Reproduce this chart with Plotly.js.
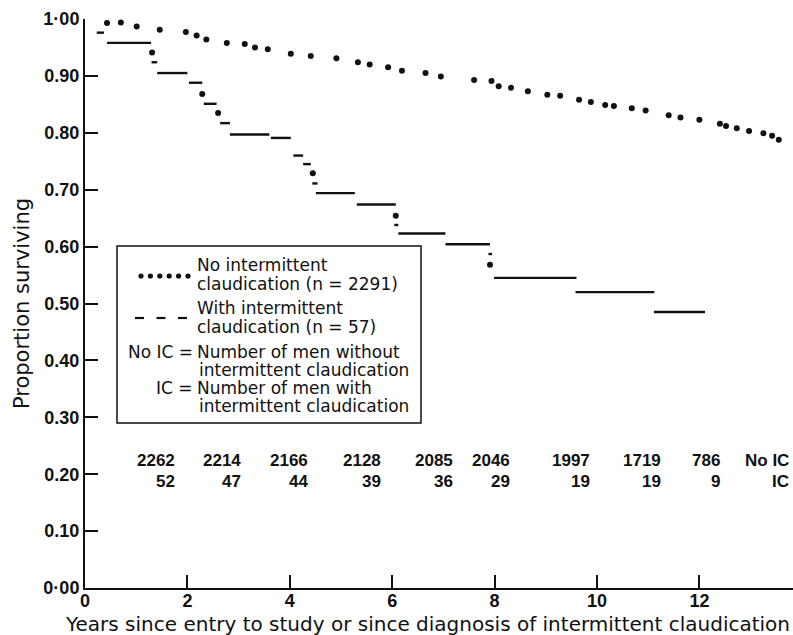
<!DOCTYPE html>
<html>
<head>
<meta charset="utf-8">
<script src="https://cdn.plot.ly/plotly-3.0.1.min.js"></script>
<style>
html,body{margin:0;padding:0;background:#fff;overflow:hidden;}
#chart{width:793px;height:635px;}
</style>
</head>
<body>
<div id="chart"></div>
<script>
// ---- Data ----
// No intermittent claudication (dotted survival curve)
const noIcYears = [0.43,0.70,1.01,1.46,1.97,2.18,2.37,2.77,3.12,3.32,3.57,4.02,4.41,4.91,5.33,5.56,5.92,6.19,6.65,6.95,7.60,7.94,8.08,8.32,8.65,9.03,9.28,9.65,9.88,10.16,10.33,10.68,10.95,11.40,11.63,12.00,12.40,12.52,12.73,12.97,13.25,13.42,13.55];
const noIcSurv  = [0.993,0.994,0.987,0.981,0.977,0.971,0.964,0.958,0.956,0.950,0.947,0.939,0.935,0.931,0.924,0.920,0.915,0.909,0.905,0.899,0.893,0.891,0.882,0.879,0.873,0.867,0.865,0.858,0.854,0.849,0.847,0.843,0.839,0.831,0.827,0.823,0.816,0.812,0.808,0.803,0.799,0.795,0.788];

// With intermittent claudication (step segments)
const icStart = [0.23,0.43,1.30,1.41,2.03,2.32,2.64,2.83,3.63,4.07,4.26,4.44,4.51,5.31,6.04,6.12,7.04,7.88,7.99,9.58,11.11];
const icEnd   = [0.37,1.29,1.41,2.00,2.29,2.57,2.83,3.60,4.02,4.26,4.41,4.54,5.27,6.07,6.12,7.04,7.91,7.95,9.60,11.12,12.11];
const icSurv  = [0.976,0.958,0.924,0.905,0.888,0.851,0.817,0.797,0.791,0.760,0.745,0.711,0.694,0.674,0.638,0.623,0.604,0.587,0.545,0.520,0.485];
// dots drawn at drops of the IC curve
const icDotYears = [1.31,2.29,2.60,4.45,6.07,7.91];
const icDotSurv  = [0.941,0.868,0.835,0.729,0.654,0.568];

// Numbers at risk
const atRiskNoIC = ["2262","2214","2166","2128","2085","2046","1997","1719","786","No IC"];
const atRiskIC   = ["52","47","44","39","36","29","19","19","9","IC"];
const atRiskYears = [1.78,3.06,4.38,5.80,7.20,8.32,9.88,11.27,12.42,13.77];

// Y tick labels
const yTickVals = [0,0.1,0.2,0.3,0.4,0.5,0.6,0.7,0.8,0.9,1.0];
const yTickText = ["0·00","0.10","0.20","0.30","0.40","0.50","0.60","0.70","0.80","0.90","1·00"];
const xTickVals = [0,2,4,6,8,10,12];

const xTitle = 'Years since entry to study or since diagnosis of intermittent claudication';
const yTitle = 'Proportion surviving';

// ---- Geometry helpers (layout only) ----
const W = 793, H = 635;
const M = {l:85, r:0, t:19, b:47};
const PW = W - M.l - M.r, PH = H - M.t - M.b;
const pxX = p => (p - M.l) / PW;
const pxY = p => (H - M.b - p) / PH;
const INK = '#111';

// Build segment arrays from the IC data
const segX = [], segY = [];
for (let i = 0; i < icStart.length; i++) {
  segX.push(icStart[i], icEnd[i], null);
  segY.push(icSurv[i], icSurv[i], null);
}

const traces = [
  {x: noIcYears, y: noIcSurv, mode:'markers', type:'scatter',
   marker:{size:6, color:INK}, cliponaxis:false, showlegend:false, hoverinfo:'x+y'},
  {x: segX, y: segY, mode:'lines', type:'scatter', connectgaps:false,
   line:{color:INK, width:2.4}, cliponaxis:false, showlegend:false},
  {x: icDotYears, y: icDotSurv, mode:'markers', type:'scatter',
   marker:{size:6, color:INK}, cliponaxis:false, showlegend:false}
];

const annFont = {family:'DejaVu Sans', size:17, color:INK};
const numFont = {family:'Liberation Sans', size:17, color:INK, weight:700};
const annotations = [];
function txt(text, px, py, anchor, font) {
  annotations.push({text:text, xref:'paper', yref:'paper', x:pxX(px), y:pxY(py),
    xanchor:anchor, yanchor:'middle', showarrow:false, font:font || annFont, borderpad:0});
}
// legend text
txt('No intermittent', 196, 265, 'left');
txt('claudication (n = 2291)', 196, 284, 'left');
txt('With intermittent', 196, 308, 'left');
txt('claudication (n = 57)', 196, 327, 'left');
txt('No IC =', 194, 352, 'right');
txt('Number of men without', 196, 352, 'left');
txt('intermittent claudication', 198, 370, 'left');
txt('IC =', 194, 388, 'right');
txt('Number of men with', 196, 388, 'left');
txt('intermittent claudication', 198, 406, 'left');

// x axis title (placed as in the reference, starting near the left edge)
txt(xTitle, 64, 624, 'left', {family:'DejaVu Sans', size:20, color:INK});

// numbers at risk rows
for (let i = 0; i < atRiskYears.length; i++) {
  annotations.push({text:atRiskNoIC[i], xref:'x', yref:'paper', x:atRiskYears[i], y:pxY(460),
    xanchor:'right', yanchor:'middle', showarrow:false, font:numFont, borderpad:0});
  annotations.push({text:atRiskIC[i], xref:'x', yref:'paper', x:atRiskYears[i], y:pxY(481),
    xanchor:'right', yanchor:'middle', showarrow:false, font:numFont, borderpad:0});
}

// legend box & samples as shapes
const shapes = [
  {type:'rect', xref:'paper', yref:'paper', x0:pxX(117), x1:pxX(421), y0:pxY(246), y1:pxY(423),
   line:{color:INK, width:1.5}, fillcolor:'#fff', layer:'below'}
];
for (let k = 0; k < 6; k++) {
  const cx = 141 + k*9.4, cy = 276;
  shapes.push({type:'circle', xref:'paper', yref:'paper',
    x0:pxX(cx-2.6), x1:pxX(cx+2.6), y0:pxY(cy+2.6), y1:pxY(cy-2.6),
    fillcolor:INK, line:{width:0}});
}
for (let k = 0; k < 3; k++) {
  const x0 = 135 + k*21.5;
  shapes.push({type:'line', xref:'paper', yref:'paper',
    x0:pxX(x0), x1:pxX(x0+9), y0:pxY(318), y1:pxY(318),
    line:{color:INK, width:2.2}});
}

const layout = {
  width:W, height:H,
  margin:M,
  paper_bgcolor:'#fff', plot_bgcolor:'#fff',
  showlegend:false,
  font:{family:'DejaVu Sans', color:INK},
  xaxis:{
    range:[0, PW/51.2], tickvals:xTickVals, ticks:'inside', ticklen:13, tickwidth:2, tickcolor:INK,
    showline:true, linecolor:INK, linewidth:2, showgrid:false, zeroline:false,
    tickfont:{family:'Liberation Sans', size:18, color:INK, weight:700},
    ticklabelstandoff:-5,
    fixedrange:true
  },
  yaxis:{
    range:[0,1], tickvals:yTickVals, ticktext:yTickText, ticks:'inside', ticklen:13, tickwidth:2, tickcolor:INK,
    showline:true, linecolor:INK, linewidth:2, showgrid:false, zeroline:false,
    tickfont:{family:'Liberation Sans', size:18, color:INK, weight:700},
    title:{text:yTitle, font:{family:'DejaVu Sans', size:21, color:INK}, standoff:8},
    fixedrange:true
  },
  annotations:annotations,
  shapes:shapes
};

Plotly.newPlot('chart', traces, layout, {displayModeBar:false, staticPlot:true});
</script>
</body>
</html>
